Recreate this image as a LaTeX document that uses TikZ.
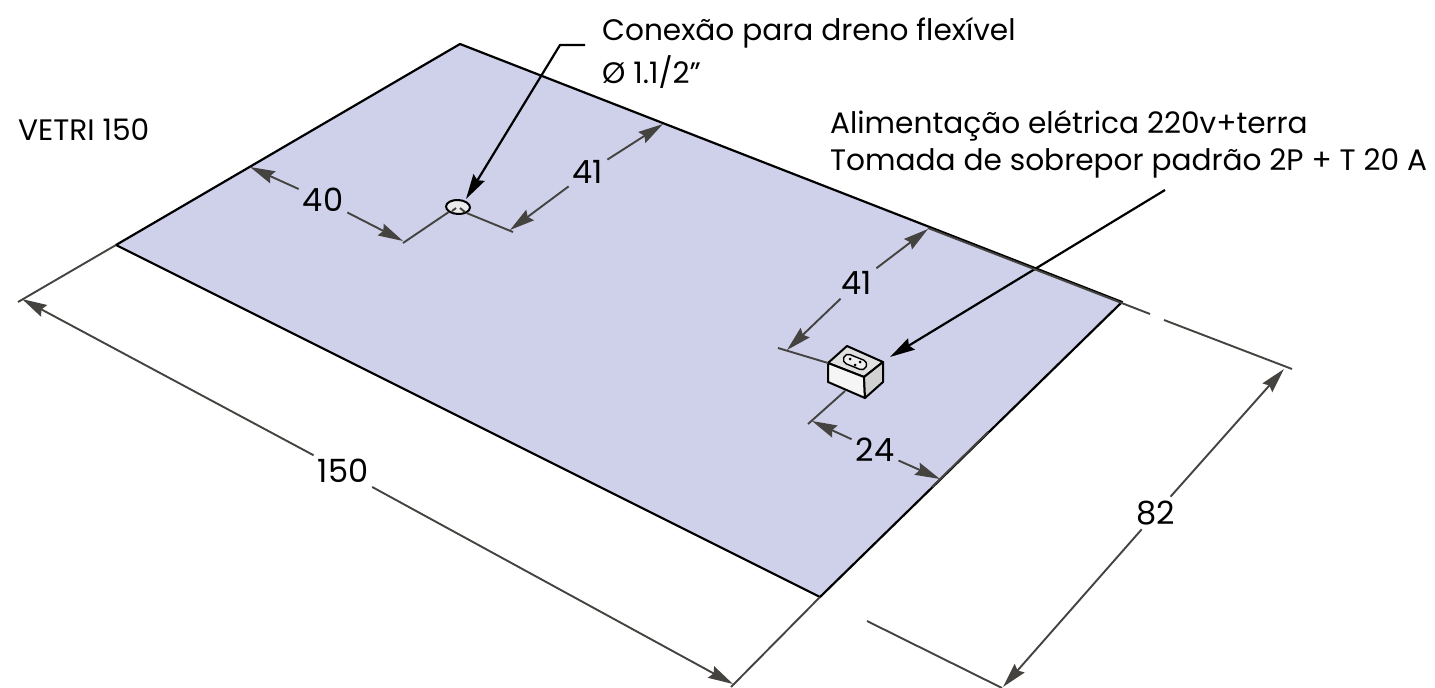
\documentclass[tikz,border=0pt]{standalone}
\usepackage{fontspec}
\setmainfont{Poppins}
\usepackage{tikz}
\usetikzlibrary{arrows.meta,shapes.geometric,calc}
\definecolor{plateblue}{HTML}{CFD1EB}
\definecolor{dimgray}{HTML}{454340}

\begin{document}
\begin{tikzpicture}[
            x=1pt, y=-1pt,
            plate/.style={draw=black, line width=2.2pt, fill=plateblue, line join=round},
            extline/.style={draw=dimgray, line width=1.9pt},
            dimline/.style={draw=dimgray, line width=1.9pt, -{Stealth[length=25pt,width=13pt,inset=3pt]}},
            leader/.style={draw=black, line width=2.2pt, -{Stealth[length=25pt,width=13pt,inset=3pt]}},
            dimtext/.style={inner sep=4pt, text=black, font=\fontsize{32}{32}\selectfont},
            notetext/.style={anchor=west, inner sep=0pt, text=black, font=\fontsize{29.6}{29.6}\selectfont},
            boxedge/.style={draw=black, line width=2pt, line join=round},
        ]
        \useasboundingbox (0,0) rectangle (1435,688);
        % tampo
        \coordinate (pW) at (116,245);
        \coordinate (pN) at (460,44);
        \coordinate (pE) at (1122,302);
        \coordinate (pS) at (820,597);
        \filldraw[plate] (pW) -- (pN) -- (pE) -- (pS) -- cycle;
        % textos
        \node[notetext] (model)   at (18,130)  {VETRI 150};
        \node[notetext] (drain)   at (602,33)  {Conexão para dreno flexível};
        \node[notetext] (diam)    at (602,72)  {Ø 1.1/2"};
        \node[notetext] (power)   at (830,126) {Alimentação elétrica 220v+terra};
        \node[notetext] (socket)  at (830,163) {Tomada de sobrepor padrão 2P + T 20 A};
        % dreno
        \node[draw=black, line width=2pt, fill=black!8, ellipse, minimum width=24pt, minimum height=14pt, inner sep=0pt, rotate=-3] (hole) at (458,207) {};
        \coordinate (h40) at (403,243);
        \coordinate (h41) at (513,232);
        \coordinate (e40) at (250,167);
        \coordinate (e41) at (663,124);
        \draw[extline] (hole.south west) -- (h40);
        \draw[extline] (hole.south east) -- (h41);
        \draw[extline] (452,211) -- (456,208) (460,208) -- (465,212);
        \node[dimtext] (d40) at (323,200) {40};
        \node[dimtext] (d41) at (588,172) {41};
        \draw[dimline] (d40) -- (e40);
        \draw[dimline] (d40) -- ($(h40)+(0,-2)$);
        \draw[dimline] (d41) -- (e41);
        \draw[dimline] (d41) -- ($(h41)+(-3,-2)$);
        \coordinate (bend) at (560,45);
        \draw[leader] (585,45) -- (bend) -- (466,199);
        % tomada
        \coordinate (bA) at (828,363);
        \coordinate (bB) at (847,346);
        \coordinate (bC) at (883,362);
        \coordinate (bD) at (864,377);
        \coordinate (bE) at (828,382);
        \coordinate (bF) at (865,398);
        \coordinate (bG) at (883,382);
        \filldraw[boxedge, fill=black!12] (bA) -- (bB) -- (bC) -- (bD) -- cycle;
        \filldraw[boxedge, fill=black!4] (bA) -- (bD) -- (bF) -- (bE) -- cycle;
        \filldraw[boxedge, fill=black!18] (bD) -- (bC) -- (bG) -- (bF) -- cycle;
        \draw[line width=1.4pt, rotate around={-22:(855,362)}, fill=black!6, rounded corners=4.5pt] (843,357) rectangle (867,367);
        \fill (850,359) circle (1.5pt) (855,365) circle (1.5pt) (860,362) circle (1.5pt);
        \draw[leader] (1165,190) -- (890,357);
        \coordinate (s41) at (778,348);
        \coordinate (s24) at (808,424);
        \draw[extline] (s41) -- (bA);
        \draw[extline] (845,391) -- (s24);
        \node[dimtext] (r41) at (857,283) {41};
        \node[dimtext] (r24) at (875,450) {24};
        \draw[dimline] (r41) -- (928,229);
        \draw[dimline] (r41) -- (787,350);
        \draw[dimline] (r24) -- (812,421);
        \draw[dimline] (r24) -- (940,479);
        \draw[extline] (932,487) -- (988,432);
        \draw[extline] (928,228) -- (1150,314);
        \draw[extline] (1164,320) -- (1292,369);
        % cotas externas
        \coordinate (w150) at (22,299);
        \coordinate (e150) at (733,684);
        \node[dimtext] (d150) at (343,471) {150};
        \node[dimtext] (d82)  at (1156,513) {82};
        \draw[extline] (pW) -- (18,302);
        \draw[extline] (pS) -- (731,687);
        \draw[extline] (867,621) -- (1002,688);
        \draw[dimline] (d150) -- (w150);
        \draw[dimline] (d150) -- (e150);
        \draw[dimline] (d82) -- (1284,369);
        \draw[dimline] (d82) -- (1003,687);
    \end{tikzpicture}
\end{document}
